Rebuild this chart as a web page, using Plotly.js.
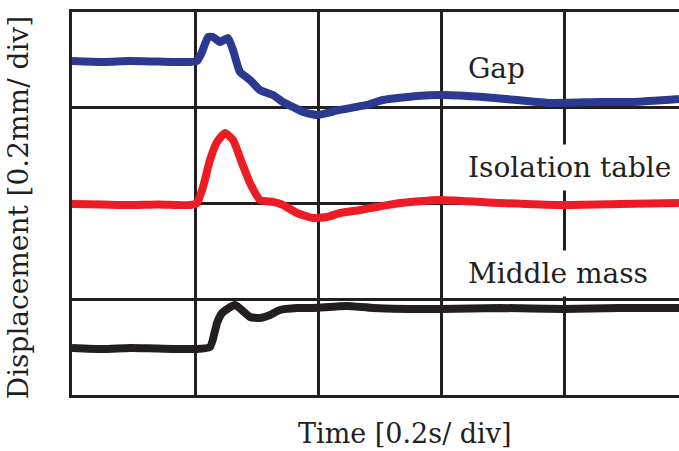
<!DOCTYPE html>
<html>
<head>
<meta charset="utf-8">
<script src="https://cdn.plot.ly/plotly-3.0.1.min.js"></script>
<style>html,body{margin:0;padding:0;background:#fff;}#chart{width:679px;height:451px;}</style>
</head>
<body>
<div id="chart"></div>
<script>
// Time in divisions (0.2 s/div), displacement in divisions (0.2 mm/div)
const gapTime = [0, 0.25, 0.472, 0.7, 0.959, 1.016, 1.057, 1.106, 1.146, 1.203, 1.268, 1.309, 1.366, 1.447, 1.528, 1.634, 1.715, 1.797, 1.878, 1.992, 2.073, 2.179, 2.398, 2.528, 2.805, 3.016, 3.341, 3.618, 3.886, 4.293, 4.561, 4.935];
const gapDisp = [3.488, 3.478, 3.488, 3.482, 3.478, 3.488, 3.582, 3.739, 3.739, 3.687, 3.728, 3.603, 3.373, 3.290, 3.185, 3.133, 3.060, 3.008, 2.956, 2.924, 2.945, 2.977, 3.029, 3.081, 3.123, 3.133, 3.112, 3.081, 3.050, 3.060, 3.060, 3.091];

const tableTime = [0, 0.25, 0.472, 0.7, 0.959, 1.016, 1.065, 1.122, 1.179, 1.244, 1.309, 1.382, 1.447, 1.528, 1.634, 1.715, 1.829, 1.959, 2.073, 2.179, 2.341, 2.667, 2.992, 3.480, 3.967, 4.455, 4.935];
const tableDisp = [1.995, 1.990, 1.984, 1.990, 1.984, 2.005, 2.172, 2.454, 2.642, 2.736, 2.663, 2.423, 2.214, 2.037, 2.016, 1.984, 1.901, 1.849, 1.859, 1.901, 1.932, 2.005, 2.037, 2.005, 1.984, 1.995, 2.005];

const massTime = [0, 0.25, 0.472, 0.7, 1.0, 1.122, 1.179, 1.220, 1.325, 1.447, 1.528, 1.610, 1.691, 1.829, 1.959, 2.236, 2.447, 2.992, 3.480, 3.992, 4.455, 4.935];
const massDisp = [0.491, 0.480, 0.491, 0.485, 0.480, 0.501, 0.752, 0.856, 0.940, 0.815, 0.804, 0.836, 0.888, 0.909, 0.909, 0.930, 0.909, 0.898, 0.909, 0.898, 0.909, 0.909];

const labels = ["Gap", "Isolation table", "Middle mass"];
const labelY = [3.415, 2.371, 1.274];

const xTitle = "Time [0.2s/ div]";
const yTitle = "Displacement [0.2mm/ div]";

const ink = "#231f20";
const font = "DejaVu Serif, serif";
const fsize = 28;

const traces = [
  {x: gapTime, y: gapDisp, mode: "lines", line: {color: "#2b3990", width: 8, shape: "spline", smoothing: 0.5}},
  {x: tableTime, y: tableDisp, mode: "lines", line: {color: "#ed1c24", width: 8, shape: "spline", smoothing: 0.5}},
  {x: massTime, y: massDisp, mode: "lines", line: {color: ink, width: 8, shape: "spline", smoothing: 0.5}}
];

const annotations = labels.map((t, i) => ({
  text: t, x: 3.16, y: labelY[i], xref: "x", yref: "y",
  xanchor: "left", yanchor: "middle", showarrow: false,
  bgcolor: i === 0 ? "rgba(0,0,0,0)" : "#ffffff", borderpad: 6,
  font: {family: font, size: fsize, color: ink}
}));
annotations.push({
  text: xTitle, x: 0.549, y: -0.1, xref: "paper", yref: "paper",
  xanchor: "center", yanchor: "middle", showarrow: false,
  font: {family: font, size: 27, color: ink}
});
annotations.push({
  text: yTitle, x: -0.089, y: 0.49, xref: "paper", yref: "paper",
  xanchor: "center", yanchor: "middle", showarrow: false, textangle: -90,
  font: {family: font, size: fsize, color: ink}
});

const layout = {
  width: 679, height: 451,
  margin: {l: 72, r: 0, t: 12, b: 56},
  paper_bgcolor: "#fff", plot_bgcolor: "#fff",
  showlegend: false,
  xaxis: {
    range: [0, 4.935], dtick: 1, tick0: 0, showticklabels: false, ticks: "",
    showgrid: true, gridcolor: ink, gridwidth: 3, zeroline: false,
    showline: true, linecolor: ink, linewidth: 3, mirror: true
  },
  yaxis: {
    range: [0, 4], dtick: 1, tick0: 0, showticklabels: false, ticks: "",
    showgrid: true, gridcolor: ink, gridwidth: 3, zeroline: false,
    showline: true, linecolor: ink, linewidth: 3
  },
  annotations: annotations
};

Plotly.newPlot("chart", traces, layout, {displayModeBar: false, staticPlot: true});
</script>
</body>
</html>
